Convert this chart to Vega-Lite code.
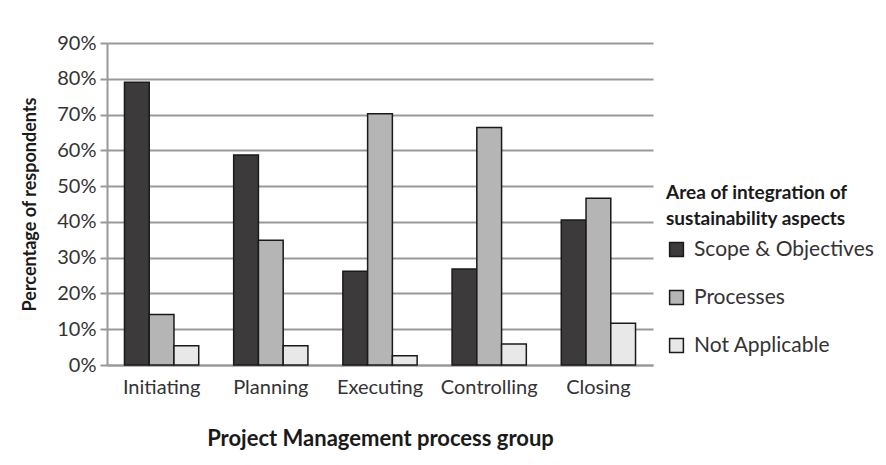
{
  "$schema": "https://vega.github.io/schema/vega-lite/v6.json",
  "width": 546,
  "height": 322,
  "autosize": {"type": "none"},
  "padding": {"left": 107, "top": 43, "right": 233, "bottom": 100},
  "background": "white",
  "data": {
    "values": [
      {"group": "Initiating", "area": "Scope & Objectives", "pct": 79.0},
      {"group": "Initiating", "area": "Processes", "pct": 14.1},
      {"group": "Initiating", "area": "Not Applicable", "pct": 5.4},
      {"group": "Planning", "area": "Scope & Objectives", "pct": 58.7},
      {"group": "Planning", "area": "Processes", "pct": 34.9},
      {"group": "Planning", "area": "Not Applicable", "pct": 5.4},
      {"group": "Executing", "area": "Scope & Objectives", "pct": 26.2},
      {"group": "Executing", "area": "Processes", "pct": 70.2},
      {"group": "Executing", "area": "Not Applicable", "pct": 2.6},
      {"group": "Controlling", "area": "Scope & Objectives", "pct": 26.8},
      {"group": "Controlling", "area": "Processes", "pct": 66.4},
      {"group": "Controlling", "area": "Not Applicable", "pct": 5.9},
      {"group": "Closing", "area": "Scope & Objectives", "pct": 40.5},
      {"group": "Closing", "area": "Processes", "pct": 46.6},
      {"group": "Closing", "area": "Not Applicable", "pct": 11.7}
    ]
  },
  "mark": {"type": "bar", "stroke": "#1a1a1a", "strokeWidth": 1.5},
  "encoding": {
    "x": {
      "field": "group",
      "type": "nominal",
      "sort": ["Initiating", "Planning", "Executing", "Controlling", "Closing"],
      "scale": {"paddingInner": 0.32, "paddingOuter": 0.16},
      "axis": {
        "title": "Project Management process group",
        "titleFont": "Lato",
        "titleFontSize": 22,
        "titleFontWeight": "bold",
        "titleColor": "#1a1a1a",
        "titleY": 73,
        "titleBaseline": "middle",
        "labelAngle": 0,
        "labelFont": "Lato",
        "labelFontSize": 20,
        "labelColor": "#333333",
        "labelPadding": 12,
        "ticks": false,
        "domainColor": "#999999",
        "domainWidth": 2,
        "grid": false
      }
    },
    "xOffset": {
      "field": "area",
      "type": "nominal",
      "sort": ["Scope & Objectives", "Processes", "Not Applicable"],
      "scale": {"paddingInner": 0}
    },
    "y": {
      "field": "pct",
      "type": "quantitative",
      "scale": {"domain": [0, 90], "nice": false},
      "axis": {
        "title": "Percentage of respondents",
        "titleFont": "Lato",
        "titleFontSize": 18,
        "titleFontWeight": "bold",
        "titleColor": "#1a1a1a",
        "titleX": -77,
        "titleY": 161,
        "titleAngle": -90,
        "titleAlign": "center",
        "titleBaseline": "middle",
        "values": [0, 10, 20, 30, 40, 50, 60, 70, 80, 90],
        "labelExpr": "datum.value + '%'",
        "labelFont": "Lato",
        "labelFontSize": 20,
        "labelColor": "#333333",
        "labelPadding": 4,
        "tickSize": 7,
        "tickColor": "#999999",
        "tickWidth": 2,
        "domainColor": "#999999",
        "domainWidth": 2,
        "grid": true,
        "gridColor": "#999999",
        "gridWidth": 2
      }
    },
    "color": {
      "field": "area",
      "type": "nominal",
      "sort": ["Scope & Objectives", "Processes", "Not Applicable"],
      "scale": {
        "domain": ["Scope & Objectives", "Processes", "Not Applicable"],
        "range": ["#3c3a3a", "#b5b5b5", "#e8e8e8"]
      },
      "legend": {
        "title": ["Area of integration of", "sustainability aspects"],
        "titleFont": "Lato",
        "titleFontSize": 19,
        "titleFontWeight": "bold",
        "titleColor": "#1a1a1a",
        "titleLineHeight": 26,
        "titlePadding": 10,
        "titleLimit": 400,
        "orient": "none",
        "legendX": 559,
        "legendY": 141,
        "labelFont": "Lato",
        "labelFontSize": 21,
        "labelColor": "#333333",
        "labelOffset": 7,
        "labelLimit": 400,
        "symbolType": "square",
        "symbolSize": 190,
        "symbolStrokeColor": "#1a1a1a",
        "symbolStrokeWidth": 1.5,
        "rowPadding": 26
      }
    }
  },
  "config": {"view": {"stroke": null}}
}
